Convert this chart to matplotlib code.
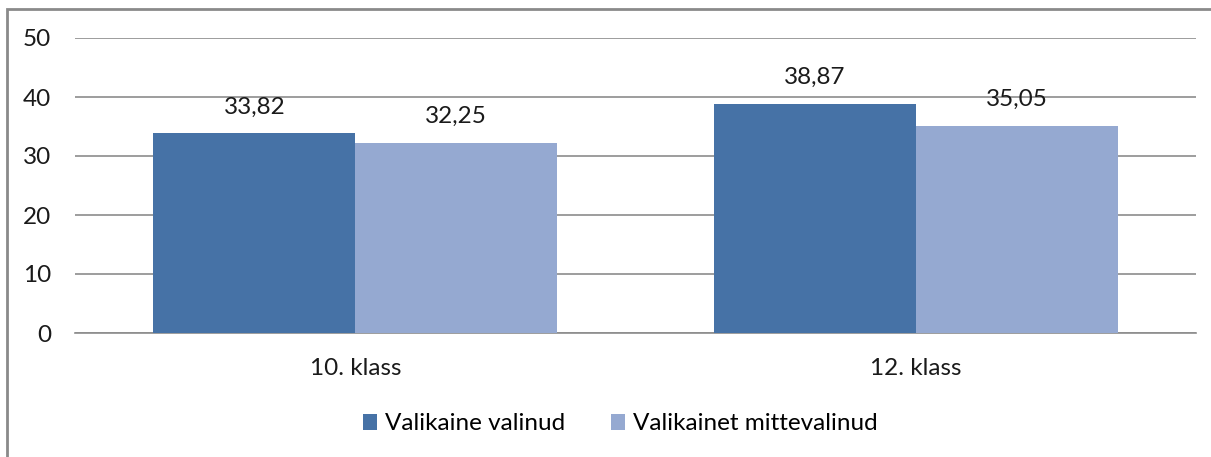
import matplotlib.pyplot as plt
import matplotlib.patches as patches
import numpy as np

# === Data ===
categories = ["10. klass", "12. klass"]
series_names = ["Valikaine valinud", "Valikainet mittevalinud"]
valinud = [33.82, 38.87]
mittevalinud = [32.25, 35.05]

COLORS = ["#4672A6", "#95A9D1"]
FONT = "Lato"
FS = 17.5

plt.rcParams["font.family"] = [FONT, "DejaVu Sans"]
plt.rcParams["font.size"] = FS

W, H = 1211, 457
fig = plt.figure(figsize=(W / 100, H / 100), dpi=100)
ax = fig.add_axes([75 / W, 1 - 333 / H, (1196 - 75) / W, (333 - 38) / H])

x = np.arange(len(categories))
bw = 0.36
for vals, name, color, off in [(valinud, series_names[0], COLORS[0], -bw / 2),
                               (mittevalinud, series_names[1], COLORS[1], bw / 2)]:
    bars = ax.bar(x + off, vals, width=bw, color=color, label=name, zorder=3)
    for b, v in zip(bars, vals):
        ax.annotate(f"{v:.2f}".replace(".", ","), (b.get_x() + b.get_width() / 2, v),
                    xytext=(0, 19), textcoords="offset points",
                    ha="center", va="center", fontsize=FS, color="#1a1a1a")

ax.set_xlim(-0.5, len(categories) - 0.5)
ax.set_ylim(0, 50)
ax.set_yticks(range(0, 51, 10))
ax.set_xticks(x)
ax.set_xticklabels(categories)
ax.tick_params(axis="both", length=0, colors="#1a1a1a", labelsize=FS)
ax.tick_params(axis="y", pad=17)
ax.tick_params(axis="x", pad=18)
ax.yaxis.grid(True, color="#8c8c8c", linewidth=1.2, zorder=0)
for side in ["left", "right", "top"]:
    ax.spines[side].set_visible(False)
ax.spines["bottom"].set_color("#8c8c8c")
ax.spines["bottom"].set_linewidth(1.2)

leg = fig.legend(loc="center", bbox_to_anchor=(620 / W, 1 - 424 / H), ncol=2,
                 frameon=False, fontsize=FS, handlelength=0.6, handleheight=0.6,
                 handletextpad=0.3, columnspacing=1.9)

# outer chart border (right and bottom run off the image)
border = patches.Rectangle((7 / W, -0.05), 1.1, 1 - 9 / H + 0.05,
                           transform=fig.transFigure, fill=False,
                           edgecolor="#8a8a8a", linewidth=2, clip_on=False)
fig.patches.append(border)

fig.savefig("out.png", dpi=100)
